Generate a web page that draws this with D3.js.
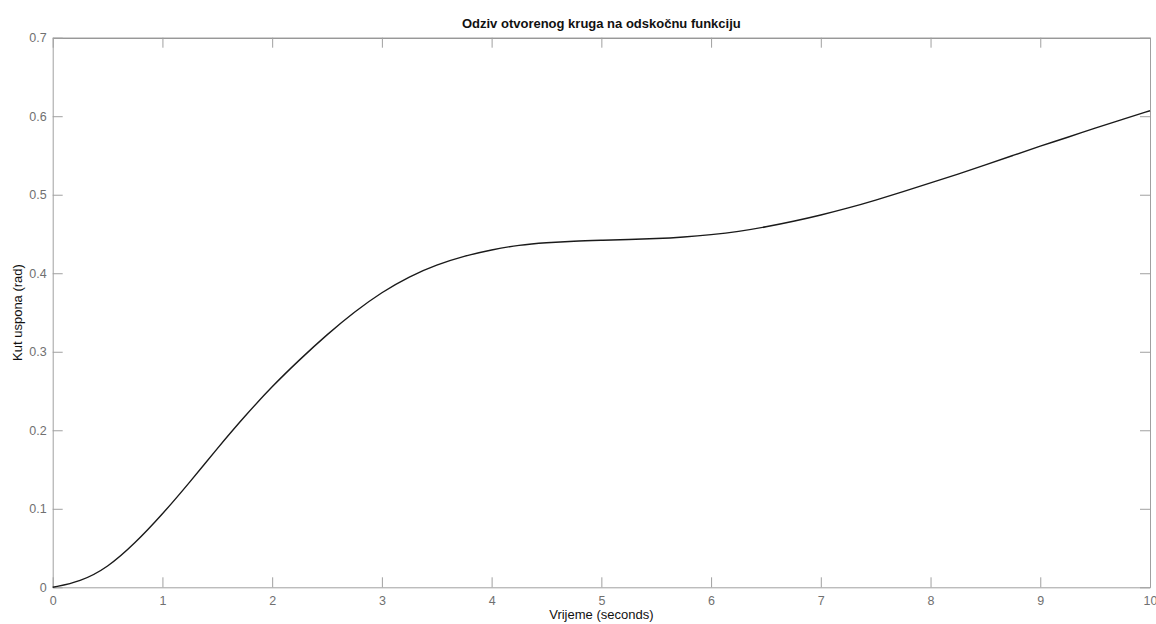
<!DOCTYPE html>
<html><head><meta charset="utf-8">
<script src="https://cdn.jsdelivr.net/npm/d3@7"></script>
<style>body{margin:0;background:#fff;}svg{display:block;}</style>
</head><body>
<script>
const timeValues = [0,0.25,0.5,0.75,1,1.25,1.5,1.75,2,2.25,2.5,2.75,3,3.25,3.5,3.75,4,4.25,4.5,4.75,5,5.25,5.5,5.75,6,6.25,6.5,6.75,7,7.25,7.5,7.75,8,8.25,8.5,8.75,9,9.25,9.5,9.75,10];
const angleValues = [0,0.007,0.025,0.056,0.093,0.134,0.177,0.218,0.256,0.29,0.322,0.351,0.376,0.396,0.411,0.422,0.43,0.436,0.439,0.441,0.442,0.443,0.444,0.446,0.449,0.453,0.459,0.466,0.474,0.483,0.493,0.504,0.515,0.526,0.538,0.55,0.562,0.573,0.585,0.596,0.607];
const xTicks = [0,1,2,3,4,5,6,7,8,9,10];
const yTicks = [0,0.1,0.2,0.3,0.4,0.5,0.6,0.7];
const titleText = "Odziv otvorenog kruga na odskočnu funkciju";
const xLabel = "Vrijeme (seconds)";
const yLabel = "Kut uspona (rad)";

const W = 1156, H = 624;
const m = {left: 52.7, right: W - 1150, top: 37.7, bottom: H - 587.3};
const svg = d3.select("body").append("svg").attr("width", W).attr("height", H)
  .style("font-family", "'Liberation Sans', Arial, sans-serif");
const x = d3.scaleLinear().domain([0,10]).range([m.left, W - m.right]);
const y = d3.scaleLinear().domain([0,0.7]).range([H - m.bottom, m.top]);
const tickLen = 10;
const tickColor = "#a0a0a0";
const textColor = "#707070";

const gB = svg.append("g").attr("transform", `translate(0,${y(0)})`)
  .call(d3.axisBottom(x).tickValues(xTicks).tickSizeInner(-tickLen).tickSizeOuter(0).tickPadding(6).tickFormat(d3.format("d")));
const gT = svg.append("g").attr("transform", `translate(0,${y(0.7)})`)
  .call(d3.axisTop(x).tickValues(xTicks).tickSizeInner(-tickLen).tickSizeOuter(0).tickFormat(""));
const gL = svg.append("g").attr("transform", `translate(${x(0)},0)`)
  .call(d3.axisLeft(y).tickValues(yTicks).tickSizeInner(-tickLen).tickSizeOuter(0).tickPadding(6).tickFormat(d => d === 0 ? "0" : d3.format(".1f")(d)));
const gR = svg.append("g").attr("transform", `translate(${x(10)},0)`)
  .call(d3.axisRight(y).tickValues(yTicks).tickSizeInner(-tickLen).tickSizeOuter(0).tickFormat(""));

[gB,gT,gL,gR].forEach(g => {
  g.selectAll(".tick line").attr("stroke", tickColor);
  g.selectAll(".tick text").attr("fill", textColor).style("font-size", "12.5px");
  g.select(".domain").attr("stroke", tickColor);
});
gT.select(".domain").attr("stroke", "#6a6a6a");
gB.selectAll(".tick text").attr("dy", "0.9em");

svg.append("path")
  .datum(timeValues.map((t,i) => [t, angleValues[i]]))
  .attr("fill", "none").attr("stroke", "#1a1a1a").attr("stroke-width", 1.4)
  .attr("d", d3.line().x(d => x(d[0])).y(d => y(d[1])).curve(d3.curveBasis));

const cx = (x(0) + x(10)) / 2;
svg.append("text").attr("x", cx).attr("y", 28).attr("text-anchor", "middle")
  .style("font-size", "13px").style("font-weight", "bold").attr("fill", "#111").text(titleText);
svg.append("text").attr("x", cx).attr("y", 619).attr("text-anchor", "middle")
  .style("font-size", "13px").attr("fill", "#111").text(xLabel);
svg.append("text").attr("transform", `translate(22,${(y(0)+y(0.7))/2}) rotate(-90)`).attr("text-anchor", "middle")
  .style("font-size", "13px").attr("fill", "#111").text(yLabel);
</script>
</body></html>
